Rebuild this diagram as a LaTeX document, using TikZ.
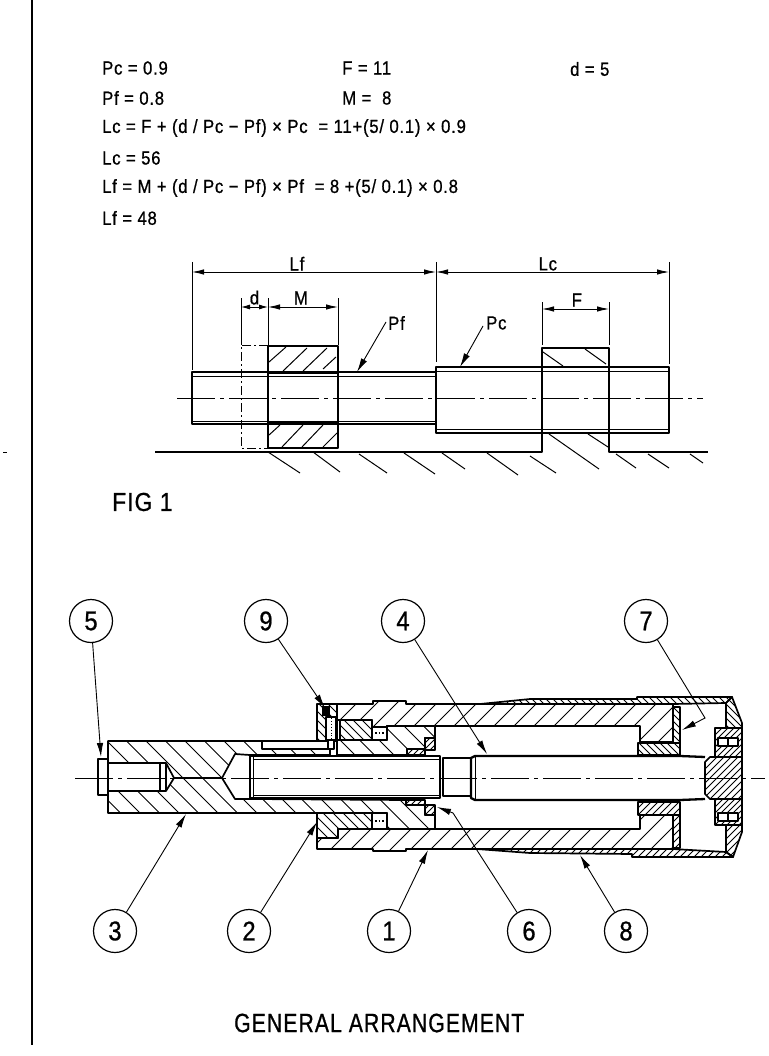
\documentclass[tikz,border=0pt]{standalone}
\usepackage{fontspec}
\setmainfont{Liberation Sans}
\newfontfamily\drawfont[FakeStretch=0.88,FakeBold=0.8,LetterSpace=4]{Liberation Sans}
\newfontfamily\titlefont[FakeStretch=0.8,FakeBold=0.8,LetterSpace=4]{Liberation Sans}
\usetikzlibrary{arrows.meta}

\tikzset{
    txt/.style = {font = \drawfont\fontsize{19}{21}\selectfont, anchor = west, inner sep = 0pt},
    bigtxt/.style = {font = \drawfont\fontsize{26}{28}\selectfont, anchor = west, inner sep = 0pt},
    titletxt/.style = {font = \titlefont\fontsize{26.5}{28}\selectfont, anchor = west, inner sep = 0pt},
    dimlabel/.style = {font = \drawfont\fontsize{19}{21}\selectfont, inner sep = 0pt},
    balloon/.style = {draw, circle, line width = 1.2pt, minimum size = 43pt, inner sep = 0pt, font = \drawfont\fontsize{27}{29}\selectfont},
    outline/.style = {line width = 1.7pt, line join = round},
    heavy/.style = {line width = 2.3pt, line join = round},
    thinline/.style = {line width = .9pt},
    hatchline/.style = {line width = 1pt},
    centreline/.style = {line width = 1pt, dash pattern = on 38pt off 5pt on 4pt off 5pt},
    ghostline/.style = {line width = 1pt, dash pattern = on 9pt off 3pt on 2pt off 3pt},
    dimline/.style = {line width = .9pt, {Latex[length=12pt,width=5.5pt]}-{Latex[length=12pt,width=5.5pt]}},
    leader/.style = {line width = .9pt, -{Latex[length=14pt,width=6.5pt]}}
}

% #1 closed path, #2 spacing
\newcommand{\hatchup}[2]{
    \begin{scope}
        \clip #1;
        \foreach \n [evaluate = \n as \c using \n*#2-100] in {0,...,170}
            \draw [hatchline] (\c,860) -- (\c+170,690);
    \end{scope}
    \draw [outline] #1;
}
\newcommand{\hatchdown}[2]{
    \begin{scope}
        \clip #1;
        \foreach \n [evaluate = \n as \c using \n*#2-100] in {0,...,170}
            \draw [hatchline] (\c,690) -- (\c+170,860);
    \end{scope}
    \draw [outline] #1;
}

\begin{document}
\begin{tikzpicture}[x = 1pt, y = -1pt]
\useasboundingbox (0,0) rectangle (768,1056);
\draw [line width = 2pt] (32,0) -- (32,1045);
\draw [line width = .6pt] (3,452) -- (7,452);

% formulas
\node [txt] (pcval) at (102,68) {Pc = 0.9};
\node [txt] (fval) at (342,68) {F = 11};
\node [txt] (dval) at (570,69) {d = 5};
\node [txt] (pfval) at (102,98) {Pf = 0.8};
\node [txt] (mval) at (342,98) {M =\ \ 8};
\node [txt] (lceq) at (102,128) {Lc = F + (d / Pc − Pf) × Pc\ \ =\ 11+(5/ 0.1) × 0.9};
\node [txt] (lcval) at (102,158) {Lc = 56};
\node [txt] (lfeq) at (102,188) {Lf = M + (d / Pc\ − Pf) × Pf\ \ = 8 +(5/ 0.1) × 0.8};
\node [txt] (lfval) at (102,218) {Lf = 48};
\node [bigtxt] (figlabel) at (112,502) {FIG 1};
\node [titletxt] (title) at (234,1023) {GENERAL ARRANGEMENT};

% fig 1, dimensions
\draw [thinline] (192,262) -- (192,370);
\draw [thinline] (436,262) -- (436,362);
\draw [thinline] (669,262) -- (669,364);
\draw [thinline] (241,298) -- (241,345);
\draw [thinline] (268,298) -- (268,345);
\draw [thinline] (338,298) -- (338,345);
\draw [thinline] (542,302) -- (542,345);
\draw [thinline] (609,302) -- (609,345);
\coordinate (lfa) at (192,272);
\coordinate (lfb) at (436,272);
\coordinate (lcb) at (669,272);
\coordinate (da) at (241,307);
\coordinate (db) at (268,307);
\coordinate (mb) at (338,307);
\coordinate (fa) at (542,309);
\coordinate (fb) at (609,309);
\draw [dimline] (lfa) -- (lfb) node [pos = .43, above = 1pt, dimlabel] (lflabel) {Lf};
\draw [dimline] (lfb) -- (lcb) node [pos = .48, above = 1pt, dimlabel] (lclabel) {Lc};
\draw [line width = .9pt, {Latex[length=9pt,width=5pt]}-{Latex[length=9pt,width=5pt]}] (da) -- (db) node [pos = .5, above = 2pt, dimlabel] (dlabel) {d};
\draw [dimline] (db) -- (mb) node [pos = .47, above = 2pt, dimlabel] (mlabel) {M};
\draw [dimline] (fa) -- (fb) node [pos = .52, above = 2pt, dimlabel] (flabel) {F};

% fig 1, shafts
\draw [heavy] (192,372) rectangle (436,424);
\draw [thinline] (192,376) -- (436,376);
\draw [thinline] (192,421) -- (436,421);
\draw [heavy] (436,367) rectangle (669,433);
\draw [thinline] (436,371) -- (669,371);
\draw [thinline] (436,429) -- (669,429);
\draw [centreline] (177,398) -- (703,398);
\draw [ghostline] (268,345) -- (241,345) -- (241,448) -- (268,448);

% fig 1, nuts
\draw [heavy] (268,346) rectangle (338,373);
\draw [heavy] (268,423) rectangle (338,448);
\draw [heavy] (268,373) -- (268,423);
\draw [heavy] (338,373) -- (338,423);
\draw [heavy] (155,452) -- (542,452) -- (542,348) -- (609,348) -- (609,452) -- (708,452);
\foreach \xa/\ya/\xb/\yb in {269/362/286/347, 283/371/307/348, 303/371/327/348, 323/369/336/357,
    269/435/280/425, 282/447/303/425, 302/447/323/425, 323/447/337/433}
    \draw [hatchline] (\xa,\ya) -- (\xb,\yb);
\foreach \xa/\ya/\xb/\yb in {543/352/563/366, 585/349/606/364, 549/434/599/469, 588/434/608/447,
    268/452/300/473, 313/452/340/472, 359/454/387/473, 404/453/435/474, 442/453/465/469,
    487/453/518/475, 530/456/556/473, 616/454/636/468, 648/454/669/468, 690/454/703/463}
    \draw [hatchline] (\xa,\ya) -- (\xb,\yb);

% fig 1, leaders
\coordinate (pftip) at (357,372);
\coordinate (pctip) at (460,367);
\draw [leader] (386,322) -- (pftip);
\draw [leader] (483,326) -- (pctip);
\node [txt] (pflabel) at (388,323) {Pf};
\node [txt] (pclabel) at (486,323) {Pc};

% arrangement, piston and gland
\hatchdown{(108,741) -- (262,741) -- (262,749) -- (330,749) -- (330,755) -- (250,755) -- (235,754) -- (222,778) -- (174,778) -- (166,763) -- (108,763) -- cycle}{19.5}
\hatchdown{(108,813) -- (387,813) -- (387,829) -- (435,829) -- (435,815) -- (425,815) -- (425,805) -- (406,805) -- (406,800) -- (250,799) -- (235,799) -- (222,778) -- (174,778) -- (166,791) -- (108,791) -- cycle}{19.5}
\hatchdown{(337,740) -- (387,740) -- (387,726) -- (435,726) -- (435,738) -- (425,738) -- (425,749) -- (407,749) -- (407,755) -- (337,755) -- cycle}{19.5}
\draw [outline] (262,741) -- (317,741);
\draw [outline] (98,759) rectangle (108,795);
\draw [outline] (160,763) -- (160,791);
\draw [outline] (166,763) -- (166,791);
\draw [thinline] (108,763) -- (108,791);

% arrangement, seals
\hatchup{(407,749) -- (425,749) -- (425,755) -- (407,755) -- cycle}{6}
\hatchup{(425,738) -- (435,738) -- (435,750) -- (425,750) -- cycle}{6}
\hatchup{(406,800) -- (425,800) -- (425,805) -- (406,805) -- cycle}{6}
\hatchup{(425,805) -- (435,805) -- (435,815) -- (425,815) -- cycle}{6}

% arrangement, flanges
\hatchdown{(317,704) -- (337,704) -- (337,741) -- (317,741) -- cycle}{9}
\hatchdown{(340,720) -- (372,720) -- (372,740) -- (340,740) -- cycle}{9}
\hatchdown{(317,813) -- (372,813) -- (372,829) -- (338,829) -- (338,838) -- (317,838) -- cycle}{10}
\fill (322,706) rectangle (330,716);
\draw [outline, fill = white] (326,717) rectangle (336,740);
\draw [outline, fill = white] (328,740) rectangle (334,749);
\draw [thinline, dotted] (331,718) -- (331,739);
\draw [outline] (372,727) rectangle (387,740);
\draw [outline] (372,813) rectangle (387,829);
\draw [line width = 1.6pt, dotted] (375,733) -- (386,733);
\draw [line width = 1.6pt, dotted] (375,821) -- (386,821);

% arrangement, cylinder
\hatchup{(337,704) -- (373,704) -- (373,701) -- (406,701) -- (406,704) -- (673,704) -- (673,742) -- (640,742) -- (640,726) -- (387,726) -- (387,727) -- (372,727) -- (372,720) -- (337,720) -- cycle}{20}
\hatchup{(317,838) -- (338,838) -- (338,829) -- (640,829) -- (640,815) -- (673,815) -- (673,849) -- (406,849) -- (406,851) -- (373,851) -- (373,849) -- (317,849) -- cycle}{20}

% arrangement, sleeve
\hatchdown{(480,704) -- (530,699) -- (637,699) -- (637,697) -- (732,697) -- (726,703) -- (673,704) -- cycle}{7}
\hatchup{(477,849) -- (530,853) -- (632,854) -- (632,857) -- (733,857) -- (726,852) -- (673,849) -- cycle}{7}
\hatchdown{(732,697) -- (742,723) -- (742,728) -- (726,728) -- (726,703) -- cycle}{7}
\hatchup{(726,825) -- (742,825) -- (742,832) -- (733,857) -- (726,852) -- cycle}{7}
\draw [outline] (726,703) -- (726,728);
\draw [outline] (726,825) -- (726,852);

% arrangement, seals and end plates
\hatchdown{(638,743) -- (680,743) -- (680,755) -- (638,755) -- cycle}{7}
\hatchdown{(673,707) -- (680,707) -- (680,743) -- (673,743) -- cycle}{7}
\hatchup{(638,802) -- (680,802) -- (680,815) -- (638,815) -- cycle}{7}
\hatchup{(673,815) -- (680,815) -- (680,848) -- (673,848) -- cycle}{7}

% arrangement, head
\hatchup{(705,762) -- (710,757) -- (742,757) -- (742,799) -- (710,799) -- (705,794) -- cycle}{7}
\hatchup{(715,728) -- (742,728) -- (742,757) -- (715,757) -- cycle}{6}
\hatchup{(715,799) -- (742,799) -- (742,825) -- (715,825) -- cycle}{6}
\foreach \y in {738,813}
{
    \draw [outline, fill = white] (718,\y) rectangle (738,\y+8);
    \draw [outline] (728,\y) -- (728,\y+8);
}

% arrangement, screw
\draw [heavy] (440,756) -- (250,756) -- (250,798) -- (440,798) -- cycle;
\draw [thinline] (253,759) -- (440,759);
\draw [thinline] (253,795) -- (440,795);
\draw [thinline] (253,756) -- (253,798);
\draw [outline] (443,758) rectangle (471,796);
\draw [heavy] (705,757) -- (680,756) -- (475,756) -- (471,758) -- (471,798) -- (475,800) -- (680,800) -- (705,799);
\draw [thinline] (475,756) -- (475,800);
\draw [centreline] (75,778) -- (765,778);

% balloons
\node [balloon] (n5) at (91,621) {5};
\node [balloon] (n9) at (266,621) {9};
\node [balloon] (n4) at (403,621) {4};
\node [balloon] (n7) at (646,621) {7};
\node [balloon] (n3) at (115,931) {3};
\node [balloon] (n2) at (249,931) {2};
\node [balloon] (n1) at (389,931) {1};
\node [balloon] (n6) at (529,931) {6};
\node [balloon] (n8) at (626,931) {8};

\coordinate (tip5) at (101,757);
\coordinate (tip9) at (325,708);
\coordinate (tip4) at (487,754);
\coordinate (bend7) at (705,718);
\coordinate (tip7) at (682,730);
\coordinate (tip3) at (186,814);
\coordinate (tip2) at (317,822);
\coordinate (tip1) at (428,850);
\coordinate (bend6) at (453,813);
\coordinate (tip6) at (437,807);
\coordinate (tip8) at (580,855);

\draw [leader] (n5) -- (tip5);
\draw [leader] (n9) -- (tip9);
\draw [leader] (n4) -- (tip4);
\draw [leader] (n7) -- (bend7) -- (tip7);
\draw [leader] (n3) -- (tip3);
\draw [leader] (n2) -- (tip2);
\draw [leader] (n1) -- (tip1);
\draw [leader] (n6) -- (bend6) -- (tip6);
\draw [leader] (n8) -- (tip8);
\end{tikzpicture}
\end{document}
